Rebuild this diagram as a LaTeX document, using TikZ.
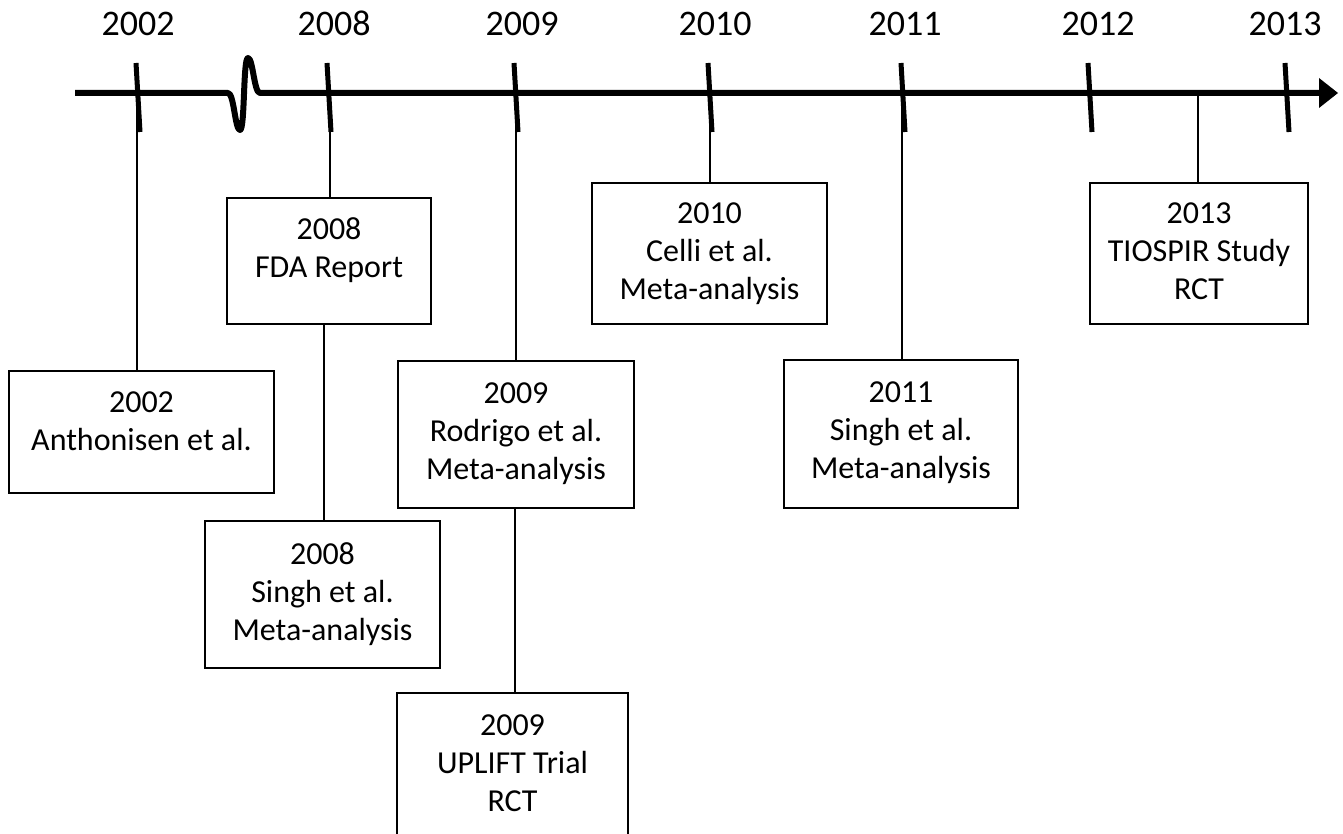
\documentclass[tikz,border=0pt]{standalone}
\usepackage{fontspec}
\setmainfont{Carlito}
\begin{document}
\begin{tikzpicture}[x=1pt,y=-1pt,
  box/.style={draw, line width=2pt, rectangle, inner sep=0pt, anchor=north west},
  txt/.style={align=center, inner sep=0pt, anchor=north, font=\fontsize{32}{38}\selectfont},
  year/.style={inner sep=0pt, anchor=base, font=\fontsize{36}{40}\selectfont},
  conn/.style={line width=2pt},
  axisline/.style={line width=6pt, line join=round},
  tickmark/.style={line width=5pt}]
\useasboundingbox (0,0) rectangle (1343,834);
\begin{scope}
\clip (0,0) rectangle (1343,834);
% axis
\coordinate (a0) at (75,93);
\coordinate (s0) at (228,93);
\coordinate (s1) at (260,93);
\coordinate (a1) at (1321,93);
\draw[axisline] (a0) -- (s0) .. controls (234,93) and (235,130) .. (240,130)
  .. controls (245,130) and (243,58) .. (248,58)
  .. controls (253,58) and (254,93) .. (s1) -- (a1);
\fill (1319,78) -- (1338,93) -- (1319,108) -- cycle;
% ticks
\foreach \x in {138,329,516,710,903,1090,1287}
  \draw[tickmark] (\x-2,63) -- (\x+2,132);
% year labels
\node[year] (y2002) at (138,36) {2002};
\node[year] (y2008) at (334,36) {2008};
\node[year] (y2009) at (522,36) {2009};
\node[year] (y2010) at (715,36) {2010};
\node[year] (y2011) at (905,36) {2011};
\node[year] (y2012) at (1098,36) {2012};
\node[year] (y2013) at (1285,36) {2013};
% boxes
\node[box, minimum width=265, minimum height=122] (anth) at (8,370) {};
\node[box, minimum width=204, minimum height=126] (fda) at (226,197) {};
\node[box, minimum width=235, minimum height=147] (singhA) at (204,520) {};
\node[box, minimum width=236, minimum height=147] (rodrigo) at (397,360) {};
\node[box, minimum width=231, minimum height=160] (uplift) at (396,692) {};
\node[box, minimum width=235, minimum height=141] (celli) at (591,182) {};
\node[box, minimum width=234, minimum height=148] (singhB) at (783,359) {};
\node[box, minimum width=218, minimum height=141] (tiospir) at (1089,182) {};
% texts
\node[txt] (tanth) at ([yshift=-22pt]anth.north) {2002\\Anthonisen et al.};
\node[txt] (tfda) at ([yshift=-20pt]fda.north) {2008\\FDA Report};
\node[txt] (tsinghA) at ([yshift=-22pt]singhA.north) {2008\\Singh et al.\\Meta-analysis};
\node[txt] (trodrigo) at ([yshift=-23pt]rodrigo.north) {2009\\Rodrigo et al.\\Meta-analysis};
\node[txt] (tuplift) at ([yshift=-23pt]uplift.north) {2009\\UPLIFT Trial\\RCT};
\node[txt] (tcelli) at ([yshift=-21pt]celli.north) {2010\\Celli et al.\\Meta-analysis};
\node[txt] (tsinghB) at ([yshift=-23pt]singhB.north) {2011\\Singh et al.\\Meta-analysis};
\node[txt] (ttiospir) at ([yshift=-21pt]tiospir.north) {2013\\TIOSPIR Study\\RCT};
% connectors
\coordinate (c2002) at (137,93);
\coordinate (c2008) at (330,93);
\coordinate (d2008) at (324,0);
\coordinate (c2009) at (516,93);
\coordinate (d2009) at (515,0);
\coordinate (c2010) at (710,93);
\coordinate (c2011) at (902,93);
\coordinate (c2013) at (1198,93);
\draw[conn] (c2002) -- (c2002 |- anth.north);
\draw[conn] (c2008) -- (c2008 |- fda.north);
\draw[conn] (d2008 |- fda.south) -- (d2008 |- singhA.north);
\draw[conn] (c2009) -- (c2009 |- rodrigo.north);
\draw[conn] (d2009 |- rodrigo.south) -- (d2009 |- uplift.north);
\draw[conn] (c2010) -- (c2010 |- celli.north);
\draw[conn] (c2011) -- (c2011 |- singhB.north);
\draw[conn] (c2013) -- (c2013 |- tiospir.north);
\end{scope}
\end{tikzpicture}
\end{document}
